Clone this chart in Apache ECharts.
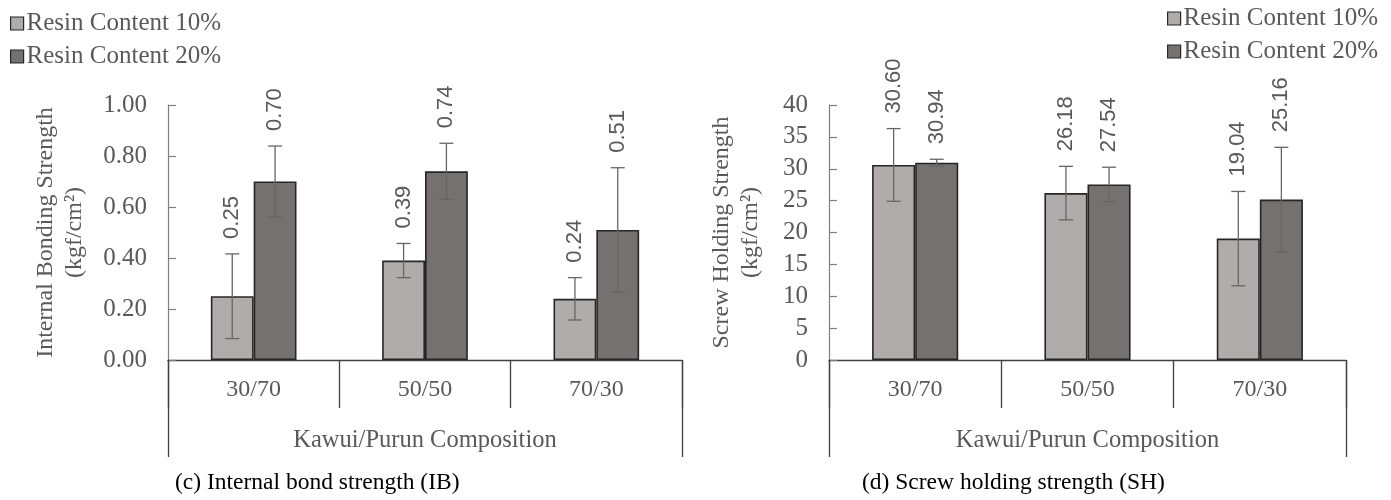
<!DOCTYPE html>
<html>
<head>
<meta charset="utf-8">
<script src="https://cdn.jsdelivr.net/npm/echarts@6/dist/echarts.min.js"></script>
<style>
html,body{margin:0;padding:0;background:#fff;}
#chart{width:1391px;height:500px;}
</style>
</head>
<body>
<div id="chart"></div>
<script>
// ---- data ----
const categories = ['30/70', '50/50', '70/30'];
const seriesNames = ['Resin Content 10%', 'Resin Content 20%'];
const ibResin10 = [0.25, 0.39, 0.24];
const ibResin20 = [0.70, 0.74, 0.51];
const ibErr10 = [0.166, 0.067, 0.083];
const ibErr20 = [0.139, 0.110, 0.244];
const shResin10 = [30.60, 26.18, 19.04];
const shResin20 = [30.94, 27.54, 25.16];
const shErr10 = [5.7, 4.2, 7.4];
const shErr20 = [0.55, 2.7, 8.2];
const ibTicks = {min: 0, max: 1, interval: 0.2};
const shTicks = {min: 0, max: 40, interval: 5};

// ---- style ----
const SERIF = 'Liberation Serif';
const GREY = '#595959';
const LIGHT = '#afacab';
const DARK = '#757170';
const EDGE = '#262626';
const BOX = '#404040';

const chart = echarts.init(document.getElementById('chart'), null, {renderer: 'canvas'});

function errSeries(name, vals, errs, side, idx) {
  return {
    type: 'custom',
    name: name + ' err',
    xAxisIndex: idx * 2,
    yAxisIndex: idx,
    z: 5,
    silent: true,
    encode: {x: 0, y: 1},
    data: vals.map((v, i) => [i, v, errs[i]]),
    renderItem: function (params, api) {
      const ci = api.value(0), v = api.value(1), e = api.value(2);
      const band = api.size([1, 0])[0];
      const dx = side * band * 0.125;
      const top = api.coord([ci, v + e]);
      const bot = api.coord([ci, v - e]);
      const x = top[0] + dx;
      const ls = {stroke: '#666', lineWidth: 1.3};
      return {
        type: 'group',
        children: [
          {type: 'line', shape: {x1: x, y1: top[1], x2: x, y2: bot[1]}, style: ls},
          {type: 'line', shape: {x1: x - 7, y1: top[1], x2: x + 7, y2: top[1]}, style: ls},
          {type: 'line', shape: {x1: x - 7, y1: bot[1], x2: x + 7, y2: bot[1]}, style: ls},
          {type: 'text', x: x, y: top[1] - 15, rotation: Math.PI / 2,
           style: {text: v.toFixed(2), fill: GREY, font: '22px "Liberation Sans"',
                   align: 'left', verticalAlign: 'middle'}}
        ]
      };
    }
  };
}

function barSeries(name, vals, color, idx) {
  return {
    type: 'bar', name: name,
    xAxisIndex: idx * 2, yAxisIndex: idx,
    data: vals,
    barGap: '0%', barCategoryGap: '50%',
    itemStyle: {color: color, borderColor: EDGE, borderWidth: 1.6}
  };
}

function xAxes(gridIndex) {
  return [
    {
      type: 'category', gridIndex: gridIndex, data: categories, position: 'bottom',
      axisLine: {show: true, lineStyle: {color: BOX, width: 1.3}},
      axisTick: {show: true, interval: 0, length: 48, lineStyle: {color: BOX, width: 1.3}},
      axisLabel: {interval: 0, margin: 18, fontFamily: SERIF, fontSize: 24, color: GREY}
    },
    {
      type: 'category', gridIndex: gridIndex, data: [''], position: 'bottom',
      axisLine: {show: false},
      axisTick: {show: true, length: 97, lineStyle: {color: BOX, width: 1.3}},
      axisLabel: {show: false},
      name: 'Kawui/Purun Composition', nameLocation: 'middle', nameGap: 68,
      nameTextStyle: {fontFamily: SERIF, fontSize: 24.5, color: GREY}
    }
  ];
}

function yAxis(gridIndex, ticks, digits, name, gap) {
  return {
    type: 'value', gridIndex: gridIndex,
    min: ticks.min, max: ticks.max, interval: ticks.interval,
    splitLine: {show: false},
    axisLine: {show: true, lineStyle: {color: '#7f7f7f', width: 1.2}},
    axisTick: {show: true, inside: true, length: 8, lineStyle: {color: '#7f7f7f', width: 1.2}},
    axisLabel: {margin: 21, fontFamily: SERIF, fontSize: 25, color: GREY,
                formatter: v => v.toFixed(digits)},
    name: name, nameLocation: 'middle', nameRotate: 90, nameGap: gap,
    nameTextStyle: {fontFamily: SERIF, fontSize: 24, color: GREY, lineHeight: 29}
  };
}

const legendCommon = {
  orient: 'vertical', icon: 'rect', itemWidth: 13, itemHeight: 13, itemGap: 8,
  itemStyle: {borderColor: EDGE, borderWidth: 1.2},
  textStyle: {fontFamily: SERIF, fontSize: 25, color: GREY, padding: [0, 0, 0, -2]},
  data: seriesNames, selectedMode: false
};

const option = {
  animation: false,
  backgroundColor: '#fff',
  legend: [
    Object.assign({left: 5, top: 6}, legendCommon),
    Object.assign({left: 1162, top: 1}, legendCommon)
  ],
  grid: [
    {left: 168, top: 105, width: 514, height: 255},
    {left: 829, top: 105, width: 517, height: 255}
  ],
  xAxis: xAxes(0).concat(xAxes(1)),
  yAxis: [
    yAxis(0, ibTicks, 2, 'Internal Bonding Strength\n(kgf/cm²)', 79),
    yAxis(1, shTicks, 0, 'Screw Holding Strength\n(kgf/cm²)', 64)
  ],
  series: [
    barSeries(seriesNames[0], ibResin10, LIGHT, 0),
    barSeries(seriesNames[1], ibResin20, DARK, 0),
    barSeries(seriesNames[0], shResin10, LIGHT, 1),
    barSeries(seriesNames[1], shResin20, DARK, 1),
    errSeries(seriesNames[0], ibResin10, ibErr10, -1, 0),
    errSeries(seriesNames[1], ibResin20, ibErr20, 1, 0),
    errSeries(seriesNames[0], shResin10, shErr10, -1, 1),
    errSeries(seriesNames[1], shResin20, shErr20, 1, 1)
  ],
  graphic: [
    {type: 'text', left: 175, top: 471,
     style: {text: '(c) Internal bond strength (IB)', fill: '#000', font: '23.5px "Liberation Serif"'}},
    {type: 'text', left: 862, top: 471,
     style: {text: '(d) Screw holding strength (SH)', fill: '#000', font: '23.5px "Liberation Serif"'}}
  ]
};
chart.setOption(option);
</script>
</body>
</html>
